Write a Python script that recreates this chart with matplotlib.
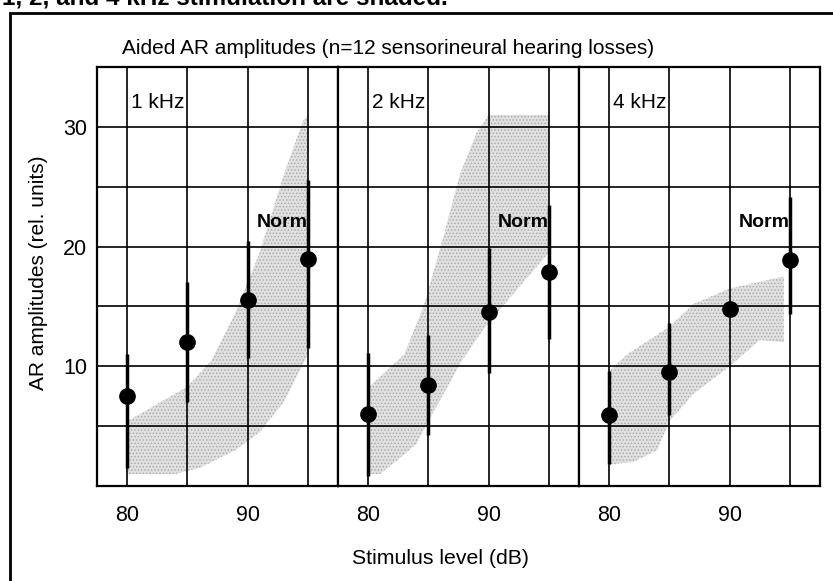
import matplotlib
matplotlib.use('Agg')
import matplotlib.pyplot as plt
from matplotlib.patches import Rectangle

plt.rcParams['font.family'] = ['Liberation Sans', 'DejaVu Sans']
plt.rcParams['hatch.linewidth'] = 0.6

# stimulus levels (dB) and frequencies
levels = [80, 85, 90, 95]
freqs = ['1 kHz', '2 kHz', '4 kHz']

# mean aided AR amplitudes with range (rel. units)
means_1k = [7.5, 12.0, 15.5, 19.0]
lo_1k = [1.5, 7.0, 10.7, 11.5]
hi_1k = [11.0, 17.0, 20.5, 25.6]

means_2k = [6.0, 8.4, 14.5, 17.9]
lo_2k = [0.8, 4.3, 9.4, 12.3]
hi_2k = [11.1, 12.6, 19.9, 23.5]

means_4k = [5.9, 9.5, 14.8, 18.9]
lo_4k = [1.8, 5.9, 14.8, 14.4]
hi_4k = [9.6, 13.6, 14.8, 24.1]

# shaded norm ranges (outline)
norm_1k_x = [80, 80, 85, 87, 89, 91, 93, 94.6, 95, 95, 93, 91, 89, 86, 84]
norm_1k_y = [1, 5.4, 8.3, 10.5, 14.5, 19.5, 26, 30.5, 31, 11, 7, 4.5, 3, 1.5, 1]

norm_2k_x = [80, 80, 83, 84.6, 86.3, 87.6, 89, 90, 95, 95, 92, 89.5, 87.8, 85.6, 84, 82, 81]
norm_2k_y = [1, 8.2, 11, 15, 21, 26, 29.5, 31, 31, 19.5, 16, 13, 10.5, 6.5, 3.5, 1.8, 1]

norm_4k_x = [80, 80, 81.5, 85, 87, 90, 94.5, 94.5, 92.5, 90, 87, 85, 84, 82]
norm_4k_y = [1.8, 9.6, 11, 13.3, 15.2, 16.5, 17.5, 12, 12.2, 10, 7.7, 5.4, 3, 2]

panels = [
    (means_1k, lo_1k, hi_1k, norm_1k_x, norm_1k_y),
    (means_2k, lo_2k, hi_2k, norm_2k_x, norm_2k_y),
    (means_4k, lo_4k, hi_4k, norm_4k_x, norm_4k_y),
]

fig = plt.figure(figsize=(8.33, 5.81), dpi=100)

left, bottom, width, height = 97 / 833, 1 - 486 / 581, 241 / 833, 419 / 581

for i, (means, lo, hi, nx, ny) in enumerate(panels):
    ax = fig.add_axes([left + i * width, bottom, width, height])
    ax.fill(nx, ny, facecolor='#e0e0e0', edgecolor='#a8a8a8', hatch='.....',
            linewidth=0, zorder=1)
    for x in levels:
        ax.axvline(x, color='black', lw=1.2, zorder=2)
    for y in [5, 10, 15, 20, 25, 30]:
        ax.axhline(y, color='black', lw=1.2, zorder=2)
    ax.vlines(levels, lo, hi, color='black', lw=2.5, zorder=3)
    ax.plot(levels, means, 'o', color='black', markersize=11, zorder=4)
    ax.text(80.3, 32, freqs[i], fontsize=15, ha='left', va='center', zorder=5)
    ax.text(95, 22, 'Norm', fontsize=14, fontweight='bold', ha='right',
            va='center', zorder=5)
    ax.set_xlim(77.5, 97.5)
    ax.set_ylim(0, 35)
    ax.set_xticks(levels)
    ax.set_xticklabels(['80', '', '90', ''])
    ax.set_yticks([10, 20, 30])
    if i > 0:
        ax.set_yticklabels([])
    ax.tick_params(length=0, labelsize=15.5, pad=7)
    ax.tick_params(axis='x', pad=14)
    for s in ax.spines.values():
        s.set_linewidth(1.6)

fig.text(441 / 833, 1 - 558 / 581, 'Stimulus level (dB)', fontsize=15.3,
         ha='center', va='center')
fig.text(39 / 833, 1 - 273 / 581, 'AR amplitudes (rel. units)', fontsize=15,
         ha='center', va='center', rotation=90)
fig.text(388 / 833, 1 - 48 / 581,
         'Aided AR amplitudes (n=12 sensorineural hearing losses)',
         fontsize=15, ha='center', va='center')
fig.text(2 / 833, 1 - 5 / 581, '1, 2, and 4 kHz stimulation are shaded.',
         fontsize=17.5, fontweight='bold', ha='left', va='baseline')

# outer frame, cut at right and bottom
fig.patches.append(Rectangle((10 / 833, -0.1), 1.2, 1.1 - 13 / 581,
                             transform=fig.transFigure, fill=False,
                             edgecolor='black', lw=2, clip_on=False))

plt.savefig('out.png', dpi=100)
